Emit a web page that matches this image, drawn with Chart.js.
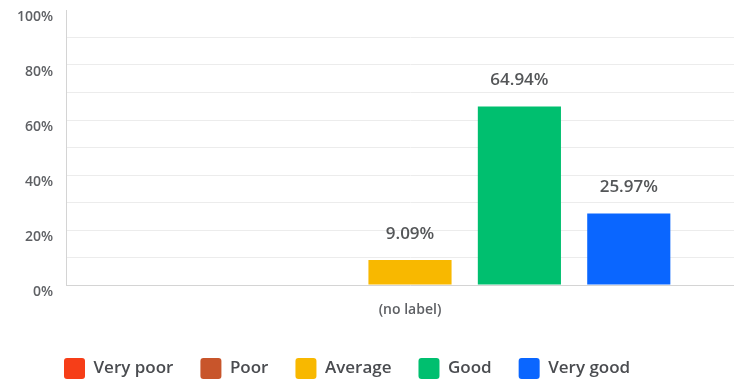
<!DOCTYPE html>
<html>
<head>
<meta charset="utf-8">
<script src="https://cdn.jsdelivr.net/npm/chart.js@4.4.1/dist/chart.umd.min.js"></script>
<style>
  html, body { margin: 0; padding: 0; background: #ffffff; overflow: hidden; }
  #wrap { width: 754px; height: 382px; }
</style>
</head>
<body>
<div id="wrap"><canvas id="chart" width="754" height="382"></canvas></div>
<script>
// Survey answer shares, in percent
const categories = ['(no label)'];
const seriesNames = ['Very poor', 'Poor', 'Average', 'Good', 'Very good'];
const veryPoor = [0];
const poor = [0];
const average = [9.09];
const good = [64.94];
const veryGood = [25.97];
const yTickLabels = ['0%', '20%', '40%', '60%', '80%', '100%'];

const seriesValues = [veryPoor, poor, average, good, veryGood];
const seriesColors = ['#f63e18', '#c8552b', '#f8b800', '#00bf6f', '#0a66ff'];

const FONT = "'Open Sans', 'Liberation Sans', sans-serif";

// Percentage label above each non-empty bar
const valueLabels = {
  id: 'valueLabels',
  afterDatasetsDraw(chart) {
    const ctx = chart.ctx;
    ctx.save();
    ctx.font = `600 17px ${FONT}`;
    ctx.fillStyle = '#545658';
    ctx.textAlign = 'center';
    ctx.textBaseline = 'middle';
    chart.data.datasets.forEach((ds, i) => {
      const meta = chart.getDatasetMeta(i);
      meta.data.forEach((bar, j) => {
        const v = ds.data[j];
        if (v > 0) ctx.fillText(v.toFixed(2) + '%', bar.x, bar.y - 26);
      });
    });
    ctx.restore();
  }
};

// Moves the bottom legend row in from the left edge
const legendIndent = {
  id: 'legendIndent',
  afterLayout(chart, args, opts) {
    const lg = chart.legend;
    if (lg) { lg.left += opts.dx; lg.right += opts.dx; }
  }
};

new Chart(document.getElementById('chart'), {
  type: 'bar',
  data: {
    labels: categories,
    datasets: seriesNames.map((name, i) => ({
      label: name,
      data: seriesValues[i],
      backgroundColor: seriesColors[i],
      borderWidth: 0,
      categoryPercentage: 0.795,
      barPercentage: 0.76
    }))
  },
  options: {
    responsive: false,
    animation: false,
    layout: { padding: { left: 0, top: 0, right: 0, bottom: -7 } },
    plugins: {
      tooltip: { enabled: false },
      legendIndent: { dx: 37 },
      legend: {
        position: 'bottom',
        align: 'start',
        labels: {
          boxWidth: 21,
          boxHeight: 21,
          useBorderRadius: true,
          borderRadius: 3,
          padding: 27,
          color: '#4a4c50',
          font: { family: FONT, size: 17, weight: '600' }
        }
      }
    },
    scales: {
      x: {
        grid: { display: false, drawTicks: false },
        border: { display: true, color: '#d4d4d4', width: 1 },
        ticks: {
          padding: 17,
          color: '#5e6064',
          font: { family: FONT, size: 14, weight: '600' }
        },
        afterFit(scale) { scale.height = 46; }
      },
      y: {
        min: 0,
        max: 100,
        grid: {
          drawTicks: false,
          color: (c) => (c.tick && c.tick.value === 100 ? 'rgba(0,0,0,0)' : '#ececec')
        },
        border: { display: true, color: '#d4d4d4', width: 1 },
        ticks: {
          stepSize: 10,
          autoSkip: false,
          padding: 13,
          labelOffset: 7,
          color: '#5e6064',
          font: { family: FONT, size: 14, weight: '600' },
          callback: (v) => (v % 20 === 0 ? yTickLabels[v / 20] : '')
        },
        afterFit(scale) {
          scale.width = 66;
          scale.paddingTop = 10;
          scale.paddingBottom = 0;
        }
      }
    }
  },
  plugins: [valueLabels, legendIndent]
});
</script>
</body>
</html>
